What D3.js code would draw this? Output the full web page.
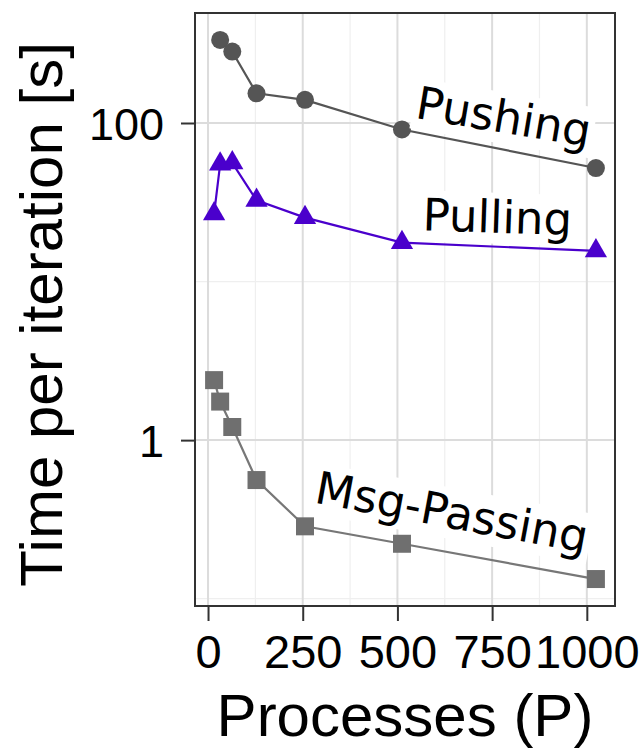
<!DOCTYPE html>
<html>
<head>
<meta charset="utf-8">
<script src="https://cdn.jsdelivr.net/npm/d3@7/dist/d3.min.js"></script>
<style>
  html, body { margin: 0; padding: 0; background: #fff; }
  svg { display: block; }
</style>
</head>
<body>
<svg id="chart" width="644" height="749"></svg>
<script>
// Time per iteration (seconds) against number of processes, three strategies.
const processes    = [16, 32, 64, 128, 256, 512, 1024];
const pushingP     = [32, 64, 128, 256, 512, 1024];
const pushingTime  = [334, 282, 154, 140, 91, 52];
const pullingTime  = [26.7, 55, 56, 32.5, 25.3, 17.6, 15.6];
const msgTime      = [2.39, 1.75, 1.21, 0.56, 0.286, 0.222, 0.133];

const xTicks = [0, 250, 500, 750, 1000];
const yTicks = [1, 100];
const xMinor = [125, 375, 625, 875];
const yMinor = [0.1, 10];

const seriesNames = ["Pushing", "Pulling", "Msg-Passing"];
// label anchors in data units (P, seconds) and text angle in degrees
const labelP     = [781, 764, 644];
const labelTime  = [110, 25.7, 0.353];
const labelAngle = [9.5, 2, 10.5];

const W = 644, H = 749;
const panel = { left: 195, right: 615, top: 13, bottom: 606 };

const svg = d3.select("#chart");

// ggplot-style 5% expansion of the data range (log space on y)
const allP = processes;
const xMin = d3.min(allP), xMax = d3.max(allP);
const xPad = (xMax - xMin) * 0.05;
const x = d3.scaleLinear().domain([xMin - xPad, xMax + xPad]).range([panel.left, panel.right]);

const allT = pushingTime.concat(pullingTime, msgTime);
const lMin = Math.log10(d3.min(allT)), lMax = Math.log10(d3.max(allT));
const lPad = (lMax - lMin) * 0.05;
const y = d3.scaleLog().domain([Math.pow(10, lMin - lPad), Math.pow(10, lMax + lPad)]).range([panel.bottom, panel.top]);

// grid
const grid = svg.append("g");
grid.selectAll(".vmin").data(xMinor).join("line")
  .attr("x1", d => x(d)).attr("x2", d => x(d))
  .attr("y1", panel.top).attr("y2", panel.bottom)
  .attr("stroke", "#efefef").attr("stroke-width", 1.2);
grid.selectAll(".hmin").data(yMinor).join("line")
  .attr("y1", d => y(d)).attr("y2", d => y(d))
  .attr("x1", panel.left).attr("x2", panel.right)
  .attr("stroke", "#efefef").attr("stroke-width", 1.2);
grid.selectAll(".vmaj").data(xTicks).join("line")
  .attr("x1", d => x(d)).attr("x2", d => x(d))
  .attr("y1", panel.top).attr("y2", panel.bottom)
  .attr("stroke", "#dcdcdc").attr("stroke-width", 2);
grid.selectAll(".hmaj").data(yTicks).join("line")
  .attr("y1", d => y(d)).attr("y2", d => y(d))
  .attr("x1", panel.left).attr("x2", panel.right)
  .attr("stroke", "#dcdcdc").attr("stroke-width", 2);

// series
const series = [
  { name: "Pushing", P: pushingP, T: pushingTime, color: "#555555", lineColor: "#555555", symbol: d3.symbolCircle, size: 255 },
  { name: "Pulling", P: processes, T: pullingTime, color: "#4A00CC", lineColor: "#4A00CC", symbol: d3.symbolTriangle, size: 215 },
  { name: "Msg-Passing", P: processes, T: msgTime, color: "#6f6f6f", lineColor: "#777777", symbol: d3.symbolSquare, size: 324 }
];

const line = d3.line().x(d => x(d[0])).y(d => y(d[1]));
const marks = svg.append("g");
series.forEach(s => {
  const pts = s.P.map((p, i) => [p, s.T[i]]);
  marks.append("path").datum(pts)
    .attr("d", line).attr("fill", "none")
    .attr("stroke", s.lineColor).attr("stroke-width", 2.2);
  marks.selectAll(null).data(pts).join("path")
    .attr("transform", d => `translate(${x(d[0])},${y(d[1])})`)
    .attr("d", d3.symbol().type(s.symbol).size(s.size))
    .attr("fill", s.color);
});

// direct labels on white boxes
const labels = svg.append("g");
seriesNames.forEach((name, i) => {
  const g = labels.append("g")
    .attr("transform", `translate(${x(labelP[i])},${y(labelTime[i])}) rotate(${labelAngle[i]})`);
  const rect = g.append("rect").attr("fill", "#fff");
  const t = g.append("text")
    .attr("text-anchor", "middle").attr("dy", "0.36em")
    .attr("font-family", "DejaVu Sans").attr("font-size", 45)
    .attr("fill", "#000").text(name);
  const bb = t.node().getBBox();
  rect.attr("x", bb.x - 3).attr("y", bb.y + 2).attr("width", bb.width + 6).attr("height", bb.height - 2);
});

// panel border
svg.append("rect")
  .attr("x", panel.left).attr("y", panel.top)
  .attr("width", panel.right - panel.left).attr("height", panel.bottom - panel.top)
  .attr("fill", "none").attr("stroke", "#333").attr("stroke-width", 2);

// axes
const xAxis = svg.append("g").attr("transform", `translate(0,${panel.bottom})`)
  .call(d3.axisBottom(x).tickValues(xTicks).tickFormat(d3.format("d")).tickSize(15).tickPadding(14));
const yAxis = svg.append("g").attr("transform", `translate(${panel.left},0)`)
  .call(d3.axisLeft(y).tickValues(yTicks).tickFormat(d3.format("d")).tickSize(14).tickPadding(17));
[xAxis, yAxis].forEach(a => {
  a.select(".domain").remove();
  a.selectAll(".tick line").attr("stroke", "#333").attr("stroke-width", 2);
  a.selectAll(".tick text").attr("fill", "#000")
    .attr("font-family", "Liberation Sans, Arial, sans-serif");
});
xAxis.selectAll(".tick text").attr("font-size", 47);
yAxis.selectAll(".tick text").attr("font-size", 45).attr("dy", "0.36em");

// axis titles
svg.append("text")
  .attr("x", (panel.left + panel.right) / 2).attr("y", 736)
  .attr("text-anchor", "middle")
  .attr("font-family", "Liberation Sans, Arial, sans-serif").attr("font-size", 60)
  .attr("fill", "#000").text("Processes (P)");
svg.append("text")
  .attr("transform", `translate(62,${(panel.top + panel.bottom) / 2 + 5}) rotate(-90)`)
  .attr("text-anchor", "middle")
  .attr("font-family", "Liberation Sans, Arial, sans-serif").attr("font-size", 60)
  .attr("fill", "#000").text("Time per iteration [s]");
</script>
</body>
</html>
